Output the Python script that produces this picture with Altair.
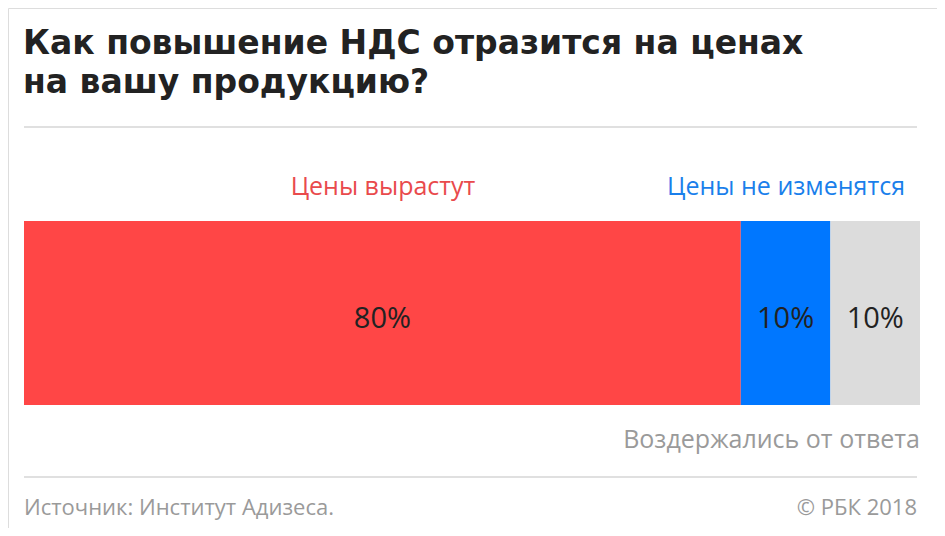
import altair as alt
import pandas as pd

title_lines = ["Как повышение НДС отразится на ценах", "на вашу продукцию?"]
categories = ["Цены вырастут", "Цены не изменятся", "Воздержались от ответа"]
values = [80, 10, 10]
bar_colors = ["#FF4646", "#0077FF", "#DCDCDC"]
label_colors = ["#E94A4C", "#1A7FEB", "#9A9A9A"]
source_text = "Источник: Институт Адизеса."
copyright_text = "© РБК 2018"

starts, ends = [], []
acc = 0
for v in values:
    starts.append(acc)
    acc += v
    ends.append(acc)

df = pd.DataFrame({
    "category": categories,
    "value": values,
    "start": starts,
    "end": ends,
    "mid": [(s + e) / 2 for s, e in zip(starts, ends)],
    "label": [f"{v}%" for v in values],
    "group": ["Ответ"] * len(values),
})

W, H = 929, 520
FONT = "Open Sans"
xscale = alt.Scale(domain=[0, 100], range=[16, 912])
yscale = alt.Scale(domain=["Ответ"], range=[213, 397], paddingInner=0, paddingOuter=0)

bars = alt.Chart(df).mark_bar().encode(
    x=alt.X("start:Q", scale=xscale, axis=None),
    x2="end:Q",
    y=alt.Y("group:N", scale=yscale, axis=None),
    color=alt.Color("category:N", scale=alt.Scale(domain=categories, range=bar_colors), legend=None),
)

pct = alt.Chart(df).mark_text(
    font=FONT, fontSize=29, fontWeight="normal", color="#222222", baseline="alphabetic", dy=15
).encode(
    x=alt.X("mid:Q", scale=xscale, axis=None),
    y=alt.Y("group:N", scale=yscale, axis=None),
    text="label:N",
)

one = pd.DataFrame({"k": [0]})

def txt(text, x, y, size, color, align="left", weight="normal", font=FONT):
    return alt.Chart(one).mark_text(
        font=font, fontSize=size, fontWeight=weight, color=color, align=align, baseline="alphabetic"
    ).encode(x=alt.value(x), y=alt.value(y), text=alt.value(text))

def rule(y):
    return alt.Chart(one).mark_rule(color="#D6D6D6", strokeWidth=1.5).encode(
        x=alt.value(16), x2=alt.value(909), y=alt.value(y)
    )

layers = [
    bars,
    pct,
    txt(title_lines[0], 15, 46, 33, "#222222", weight="bold", font="DejaVu Sans"),
    txt(title_lines[1], 15, 85, 33, "#222222", weight="bold", font="DejaVu Sans"),
    rule(119),
    txt(categories[0], 375, 187, 25, label_colors[0], align="center"),
    txt(categories[1], 897, 187, 25, label_colors[1], align="right"),
    txt(categories[2], 912, 440, 25, label_colors[2], align="right"),
    rule(469),
    txt(source_text, 16, 507, 22, "#9A9A9A"),
    txt(copyright_text, 909, 507, 22, "#9A9A9A", align="right"),
]

chart = alt.layer(*layers).properties(
    width=W, height=H, autosize=alt.AutoSizeParams(type="none"), padding=0
).configure_view(stroke=None).configure(background="white")

chart.save("out.html", embed_options={"renderer": "svg", "actions": False})
